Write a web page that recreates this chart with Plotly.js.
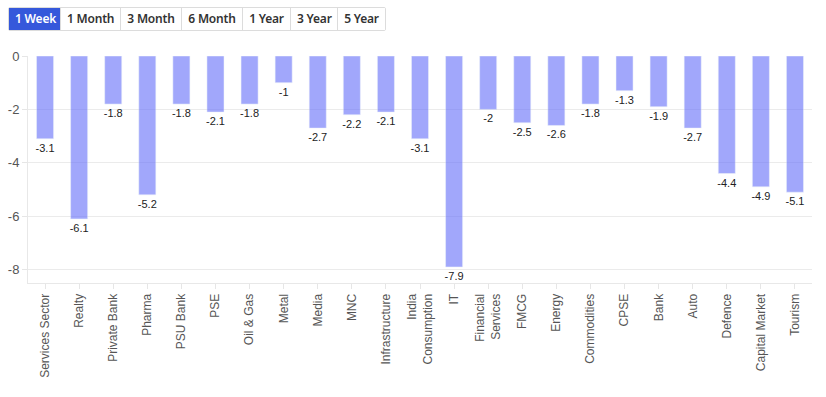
<!DOCTYPE html>
<html><head><meta charset="utf-8">
<script src="https://cdn.plot.ly/plotly-3.0.1.min.js"></script>
<style>
html,body{margin:0;padding:0;background:#fff;width:826px;height:397px;overflow:hidden;}
#wrap{position:relative;width:826px;height:397px;}
#chart{position:absolute;left:0;top:0;width:826px;height:397px;}
#btns{position:absolute;left:8px;top:7px;display:flex;border:1px solid #dcdcdc;border-radius:2px;z-index:5;font-family:"Noto Sans",Inter,sans-serif;}
#btns div{height:22px;line-height:22px;font-size:12px;font-weight:600;color:#333;padding:0 6px;border-left:1px solid #dcdcdc;background:#fff;white-space:nowrap;letter-spacing:-0.2px;}
#btns div:first-child{border-left:none;}
#btns div.active{background:#3558db;color:#fff;}
</style></head>
<body><div id="wrap"><div id="btns"></div><div id="chart"></div></div>
<script>
const periods = ["1 Week","1 Month","3 Month","6 Month","1 Year","3 Year","5 Year"];
const categories = ["Services Sector","Realty","Private Bank","Pharma","PSU Bank","PSE","Oil & Gas","Metal","Media","MNC","Infrastructure","India<br>Consumption","IT","Financial<br>Services","FMCG","Energy","Commodities","CPSE","Bank","Auto","Defence","Capital Market","Tourism"];
const values = [-3.1,-6.1,-1.8,-5.2,-1.8,-2.1,-1.8,-1,-2.7,-2.2,-2.1,-3.1,-7.9,-2,-2.5,-2.6,-1.8,-1.3,-1.9,-2.7,-4.4,-4.9,-5.1];
const yTicks = [0,-2,-4,-6,-8];

const bw = [52,60,61,61,48,47,48];
const btns = document.getElementById('btns');
periods.forEach((p,i)=>{const d=document.createElement('div');d.textContent=p;d.style.width=(bw[i]-13)+'px';d.style.textAlign='center';if(i===0)d.className='active';btns.appendChild(d);});

Plotly.newPlot('chart',[{
  type:'bar', x:categories, y:values,
  text:values.map(String), textposition:'outside', cliponaxis:false, constraintext:'none',
  textfont:{family:'Liberation Sans, Arial, sans-serif',size:11,color:'#222'},
  marker:{color:'#636efa',opacity:0.6,line:{color:'#E5ECF6',width:0.5}},
  width:0.5, hoverinfo:'x+y'
}],{
  width:826,height:397,
  margin:{l:28,r:14,t:56,b:114},
  paper_bgcolor:'#fff',plot_bgcolor:'#fff',
  showlegend:false,
  font:{family:'Liberation Sans, Arial, sans-serif',size:12,color:'#555'},
  xaxis:{type:'category',tickangle:-90,ticks:'outside',ticklen:5,tickcolor:'#e6e6e6',
    showline:true,linecolor:'#e8e8e8',showgrid:false,tickfont:{size:12,color:'#555'},automargin:false},
  yaxis:{range:[-8.5,0],tickvals:yTicks,ticktext:yTicks.map(String),ticks:'outside',ticklen:5,tickcolor:'#e6e6e6',
    showline:true,linecolor:'#e8e8e8',gridcolor:'#ebebeb',zeroline:false,tickfont:{size:13,color:'#555'},automargin:false}
},{displayModeBar:false});
</script></body></html>
